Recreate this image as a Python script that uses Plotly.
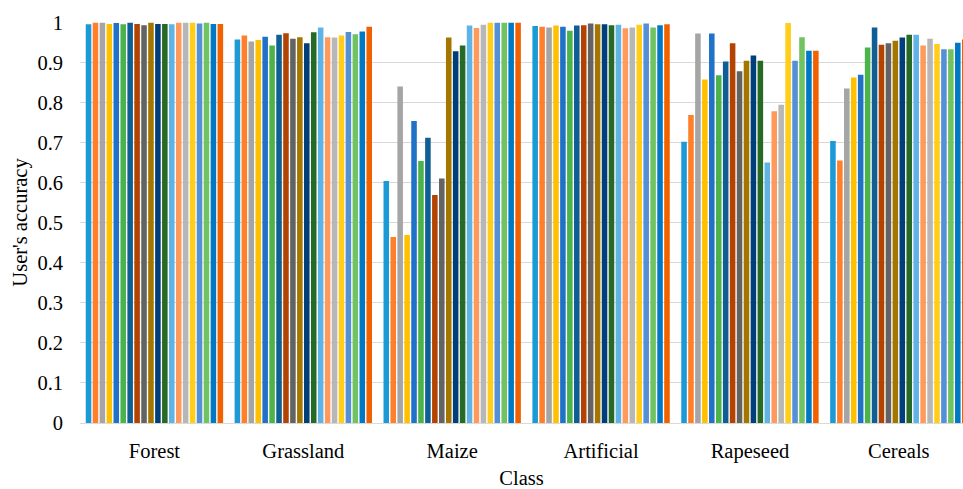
import plotly.graph_objects as go

# Land-cover classes on the x axis
classes = ["Forest", "Grassland", "Maize", "Artificial", "Rapeseed", "Cereals"]

# User's accuracy of the 20 classifier runs, one list per class
forest_ua = [0.995, 0.999, 0.999, 0.996, 0.998, 0.995, 0.999, 0.996, 0.993, 0.999,
             0.996, 0.996, 0.995, 0.999, 0.999, 0.999, 0.997, 0.999, 0.996, 0.996]
grassland_ua = [0.957, 0.967, 0.952, 0.956, 0.964, 0.942, 0.969, 0.973, 0.959, 0.963,
                0.948, 0.975, 0.987, 0.963, 0.962, 0.967, 0.976, 0.970, 0.977, 0.989]
maize_ua = [0.604, 0.464, 0.840, 0.469, 0.754, 0.654, 0.712, 0.569, 0.610, 0.962,
            0.928, 0.942, 0.992, 0.986, 0.994, 0.999, 0.999, 0.999, 0.999, 0.999]
artificial_ua = [0.991, 0.989, 0.987, 0.992, 0.989, 0.979, 0.992, 0.993, 0.997, 0.995,
                 0.995, 0.993, 0.994, 0.985, 0.987, 0.994, 0.997, 0.987, 0.993, 0.995]
rapeseed_ua = [0.702, 0.769, 0.972, 0.857, 0.972, 0.868, 0.902, 0.948, 0.878, 0.904,
               0.917, 0.904, 0.650, 0.778, 0.794, 0.998, 0.904, 0.963, 0.929, 0.929]
cereals_ua = [0.704, 0.655, 0.835, 0.862, 0.869, 0.937, 0.987, 0.944, 0.948, 0.954,
              0.962, 0.969, 0.969, 0.942, 0.959, 0.946, 0.933, 0.933, 0.949, 0.957]

run_names = [f"Run {i}" for i in range(1, 21)]
run_colors = ["#1C9AD6", "#FF7F2A", "#A5A5A5", "#FFC000", "#1F72C8",
              "#4BB34A", "#0F5F94", "#B24300", "#636363", "#A47600",
              "#003F7A", "#266A26", "#5FB4E5", "#FF9A5C", "#B7B7B7",
              "#FFCD1A", "#5390D5", "#71C261", "#0079C5", "#F26100"]

per_class = [forest_ua, grassland_ua, maize_ua, artificial_ua, rapeseed_ua, cereals_ua]

font_family = "Liberation Serif, Times New Roman, serif"

fig = go.Figure()
for i, name in enumerate(run_names):
    fig.add_trace(go.Bar(
        x=classes,
        y=[vals[i] for vals in per_class],
        name=name,
        marker=dict(color=run_colors[i], line=dict(width=0)),
    ))

fig.update_layout(
    width=963,
    height=489,
    margin=dict(l=80, r=0, t=22, b=66),
    paper_bgcolor="white",
    plot_bgcolor="white",
    barmode="group",
    bargap=0.068,
    bargroupgap=0.2,
    showlegend=False,
    font=dict(family=font_family, size=20.5, color="#000000"),
    xaxis=dict(
        type="category",
        range=[-0.5, 5.431],
        showgrid=False,
        showline=True,
        linecolor="#D9D9D9",
        linewidth=1,
        ticks="",
        ticklabelstandoff=9,
        tickfont=dict(family=font_family, size=20.5),
        title=dict(text="Class", font=dict(family=font_family, size=20.5), standoff=10),
    ),
    yaxis=dict(
        range=[0, 1.0008],
        dtick=0.1,
        tick0=0,
        showgrid=True,
        gridcolor="#D9D9D9",
        gridwidth=1,
        zeroline=False,
        showline=False,
        ticks="",
        ticklabelstandoff=16,
        tickfont=dict(family=font_family, size=20.5),
        title=dict(text="User's accuracy", font=dict(family=font_family, size=20.5), standoff=4),
    ),
)

fig.write_html("out.html")
